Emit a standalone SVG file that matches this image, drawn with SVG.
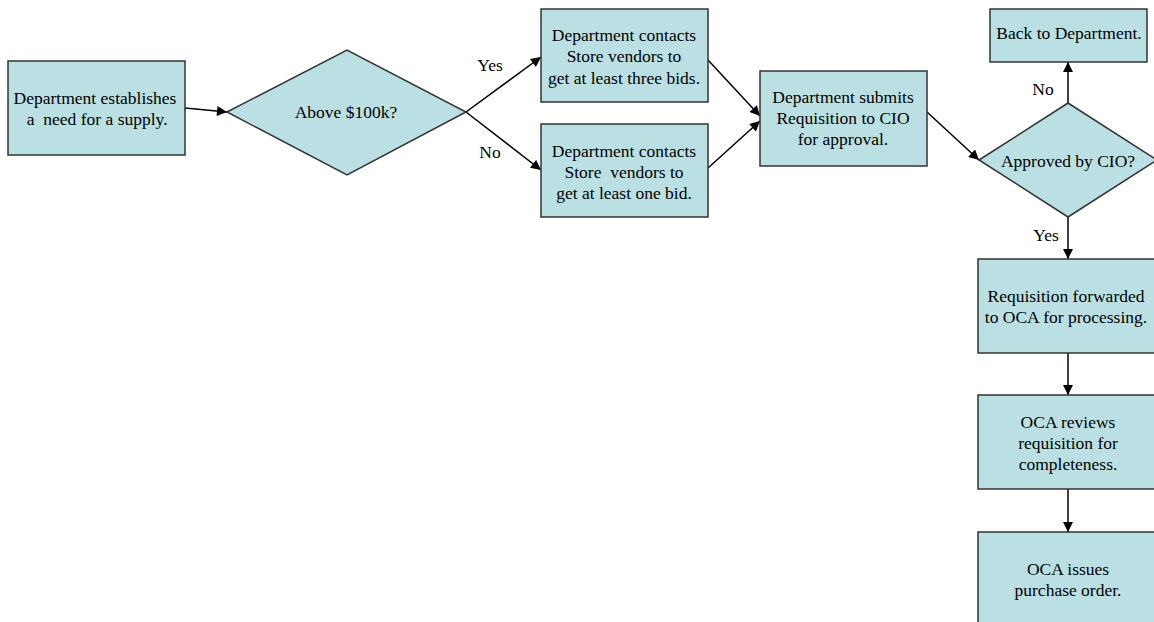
<svg xmlns="http://www.w3.org/2000/svg" width="1154" height="622" viewBox="0 0 1154 622">
<style>
.n{fill:#BBE0E3;stroke:#333;stroke-width:1.5}
.t{font-family:"Liberation Serif","Times New Roman",serif;font-size:17.5px;fill:#000;text-anchor:middle}
.p{white-space:pre}
.c{stroke:#000;stroke-width:1.5;fill:none;marker-end:url(#ah)}
</style>
<defs>
<marker id="ah" viewBox="0 0 10 10" refX="10" refY="5" markerWidth="11" markerHeight="10" markerUnits="userSpaceOnUse" orient="auto">
<path d="M0,0 L10,5 L0,10 z" fill="#000"/>
</marker>
</defs>
<rect width="1154" height="622" fill="#fff"/>
<g id="connectors">
<line class="c" x1="185" y1="108" x2="227" y2="112"/>
<line class="c" x1="466" y1="112" x2="541" y2="57"/>
<line class="c" x1="466" y1="112" x2="541" y2="170"/>
<line class="c" x1="708" y1="60" x2="760" y2="116"/>
<line class="c" x1="708" y1="168" x2="760" y2="121"/>
<line class="c" x1="927" y1="112" x2="979" y2="160"/>
<line class="c" x1="1068" y1="103" x2="1068" y2="62"/>
<line class="c" x1="1068" y1="217" x2="1068" y2="259"/>
<line class="c" x1="1068" y1="353" x2="1068" y2="395"/>
<line class="c" x1="1068" y1="489" x2="1068" y2="532"/>
<text class="t" x="490" y="71">Yes</text>
<text class="t" x="490" y="158">No</text>
<text class="t" x="1043" y="95">No</text>
<text class="t" x="1046" y="241">Yes</text>
</g>
<g id="n1">
<rect class="n" x="8" y="61" width="177" height="94"/>
<text class="t" x="95" y="104">Department establishes</text>
<text class="t p" x="95" y="125"> a  need for a supply.</text>
</g>
<g id="n2">
<polygon class="n" points="227,112 347,50 466,112 347,175"/>
<text class="t" x="346" y="118">Above $100k?</text>
</g>
<g id="n3">
<rect class="n" x="541" y="9" width="167" height="93"/>
<text class="t" x="624" y="41">Department contacts</text>
<text class="t" x="624" y="62">Store vendors to</text>
<text class="t" x="624" y="84">get at least three bids.</text>
</g>
<g id="n4">
<rect class="n" x="541" y="124" width="167" height="93"/>
<text class="t" x="624" y="157">Department contacts</text>
<text class="t p" x="624" y="178">Store  vendors to</text>
<text class="t" x="624" y="199">get at least one bid.</text>
</g>
<g id="n5">
<rect class="n" x="760" y="71" width="167" height="95"/>
<text class="t" x="843" y="103">Department submits</text>
<text class="t" x="843" y="124">Requisition to CIO</text>
<text class="t" x="843" y="145">for approval.</text>
</g>
<g id="n6">
<polygon class="n" points="979,160 1068,103 1157,160 1068,217"/>
<text class="t" x="1068" y="167">Approved by CIO?</text>
</g>
<g id="n7">
<rect class="n" x="990" y="9" width="157" height="53"/>
<text class="t" x="1069" y="39">Back to Department.</text>
</g>
<g id="n8">
<rect class="n" x="978" y="259" width="182" height="94"/>
<text class="t" x="1066" y="302">Requisition forwarded</text>
<text class="t" x="1066" y="323">to OCA for processing.</text>
</g>
<g id="n9">
<rect class="n" x="978" y="395" width="182" height="94"/>
<text class="t" x="1068" y="428">OCA reviews</text>
<text class="t" x="1068" y="449">requisition for</text>
<text class="t" x="1068" y="470">completeness.</text>
</g>
<g id="n10">
<rect class="n" x="978" y="532" width="182" height="94"/>
<text class="t" x="1068" y="575">OCA issues</text>
<text class="t" x="1068" y="596">purchase order.</text>
</g>
</svg>
